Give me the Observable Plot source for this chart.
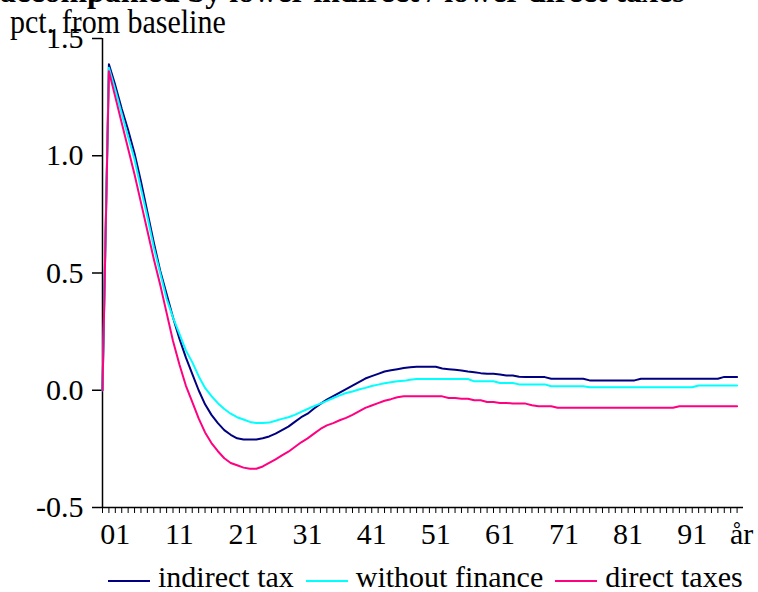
<!DOCTYPE html>
<html>
<head>
<meta charset="utf-8">
<script src="https://cdn.jsdelivr.net/npm/d3@7"></script>
<script src="https://cdn.jsdelivr.net/npm/@observablehq/plot@0.6"></script>
<style>
  body { margin: 0; background: #fff; font-family: "Liberation Serif", "Times New Roman", serif; color: #000; }
  #wrap { position: relative; width: 758px; height: 592px; overflow: hidden; }
  #chart { position: absolute; left: 0; top: 0; }
  #title { position: absolute; left: 0; top: -25px; font-weight: bold; font-size: 32px; line-height: 1; white-space: nowrap; }
  #sub { position: absolute; left: 10px; top: 8px; font-size: 30px; line-height: 1; white-space: nowrap; transform: scaleY(1.1); transform-origin: left bottom; }
  #legend { position: absolute; left: 108px; top: 562px; display: flex; font-size: 30px; line-height: 30px; white-space: nowrap; }
  .item { display: flex; margin-right: 12px; }
  .item svg { display: block; margin-right: 8px; }
</style>
</head>
<body>
<div id="wrap">
  <div id="chart"></div>
  <div id="title">accompanied by lower indirect / lower direct taxes</div>
  <div id="sub">pct. from baseline</div>
  <div id="legend"></div>
</div>
<script>
// Series names and colours
const seriesNames = ["indirect tax", "without finance", "direct taxes"];
const seriesColors = ["#000080", "#00ffff", "#ff0080"];

// Values per period (period index 0..99)
const indirectTax = [
  0.00, 1.39, 1.30, 1.20, 1.11, 1.01, 0.89, 0.76, 0.63, 0.51,
  0.41, 0.31, 0.22, 0.14, 0.07, 0.00, -0.06, -0.105, -0.14, -0.17,
  -0.19, -0.205, -0.21, -0.21, -0.21, -0.205, -0.197, -0.185, -0.17, -0.155,
  -0.135, -0.115, -0.10, -0.078, -0.058, -0.04, -0.025, -0.01, 0.005, 0.02,
  0.035, 0.05, 0.06, 0.07, 0.08, 0.085, 0.09, 0.095, 0.098, 0.10,
  0.10, 0.10, 0.10, 0.093, 0.09, 0.087, 0.084, 0.08, 0.077, 0.073,
  0.07, 0.07, 0.067, 0.063, 0.063, 0.058, 0.056, 0.056, 0.056, 0.056,
  0.049, 0.049, 0.049, 0.049, 0.049, 0.049, 0.042, 0.042, 0.042, 0.042,
  0.042, 0.042, 0.042, 0.042, 0.049, 0.049, 0.049, 0.049, 0.049, 0.049,
  0.049, 0.049, 0.049, 0.049, 0.049, 0.049, 0.049, 0.057, 0.057, 0.057
];
const withoutFinance = [
  0.00, 1.375, 1.28, 1.18, 1.08, 0.985, 0.86, 0.74, 0.61, 0.50,
  0.39, 0.31, 0.24, 0.17, 0.12, 0.06, 0.01, -0.025, -0.055, -0.08,
  -0.10, -0.115, -0.125, -0.135, -0.14, -0.14, -0.138, -0.13, -0.122, -0.115,
  -0.105, -0.092, -0.08, -0.068, -0.057, -0.045, -0.033, -0.022, -0.012, -0.005,
  0.003, 0.01, 0.018, 0.024, 0.03, 0.034, 0.038, 0.04, 0.045, 0.048,
  0.048, 0.048, 0.048, 0.048, 0.048, 0.048, 0.048, 0.048, 0.038, 0.038,
  0.038, 0.038, 0.031, 0.031, 0.031, 0.025, 0.025, 0.025, 0.025, 0.025,
  0.017, 0.017, 0.017, 0.017, 0.017, 0.017, 0.013, 0.013, 0.013, 0.013,
  0.013, 0.013, 0.013, 0.013, 0.013, 0.013, 0.013, 0.013, 0.013, 0.013,
  0.013, 0.013, 0.013, 0.02, 0.02, 0.02, 0.02, 0.02, 0.02, 0.02
];
const directTaxes = [
  0.00, 1.36, 1.25, 1.14, 1.03, 0.92, 0.80, 0.68, 0.56, 0.45,
  0.33, 0.21, 0.11, 0.02, -0.05, -0.12, -0.18, -0.225, -0.26, -0.29,
  -0.31, -0.32, -0.33, -0.335, -0.335, -0.325, -0.31, -0.295, -0.278, -0.262,
  -0.242, -0.222, -0.205, -0.185, -0.165, -0.15, -0.14, -0.128, -0.118, -0.105,
  -0.09, -0.075, -0.065, -0.055, -0.045, -0.038, -0.03, -0.026, -0.026, -0.026,
  -0.026, -0.026, -0.026, -0.026, -0.033, -0.033, -0.036, -0.036, -0.043, -0.043,
  -0.05, -0.05, -0.054, -0.054, -0.057, -0.057, -0.057, -0.064, -0.068, -0.068,
  -0.068, -0.075, -0.075, -0.075, -0.075, -0.075, -0.075, -0.075, -0.075, -0.075,
  -0.075, -0.075, -0.075, -0.075, -0.075, -0.075, -0.075, -0.075, -0.075, -0.075,
  -0.068, -0.068, -0.068, -0.068, -0.068, -0.068, -0.068, -0.068, -0.068, -0.068
];

// Axis ticks and labels
const yTicks = [-0.5, 0.0, 0.5, 1.0, 1.5];
const xMinorTicks = d3.range(0, 100);
const xLabels = ["01", "11", "21", "31", "41", "51", "61", "71", "81", "91", "år"];
const xLabelPos = [2, 12, 22, 32, 42, 52, 62, 72, 82, 92, 99.7];

const seriesValues = [indirectTax, withoutFinance, directTaxes];
const rows = [];
seriesValues.forEach((vals, s) => vals.forEach((v, t) => rows.push({ series: seriesNames[s], t, v })));

const chart = Plot.plot({
  width: 758,
  height: 552,
  marginTop: 38,
  marginBottom: 45,
  marginLeft: 102,
  marginRight: 15,
  style: { background: "transparent", fontFamily: "Liberation Serif, Times New Roman, serif", fontSize: "30px", color: "#000" },
  x: { domain: [0, 100] },
  y: { domain: [-0.5, 1.5] },
  color: { domain: seriesNames, range: seriesColors },
  marks: [
    Plot.axisY({ ticks: yTicks, tickFormat: d => d.toFixed(1), tickSize: 10, tickPadding: 9, label: null, strokeWidth: 1.5 }),
    Plot.axisX({ ticks: xMinorTicks, tickFormat: () => "", tickSize: 6, label: null, strokeWidth: 1 }),
    Plot.axisX({ ticks: xLabelPos, tickFormat: d => xLabels[xLabelPos.indexOf(d)], tickSize: 0, tickPadding: 15, label: null }),
    Plot.ruleX([0], { stroke: "#000", strokeWidth: 1.5 }),
    Plot.ruleY([-0.5], { stroke: "#000", strokeWidth: 1.5 }),
    Plot.line(rows, { x: "t", y: "v", z: "series", stroke: "series", strokeWidth: 2 })
  ]
});
document.getElementById("chart").appendChild(chart);

// Legend
const legend = document.getElementById("legend");
seriesNames.forEach((name, i) => {
  const item = document.createElement("div");
  item.className = "item";
  item.innerHTML = `<svg width="42" height="30"><line x1="0" x2="42" y1="19" y2="19" stroke="${seriesColors[i]}" stroke-width="2"/></svg><span>${name}</span>`;
  legend.appendChild(item);
});
</script>
</body>
</html>
